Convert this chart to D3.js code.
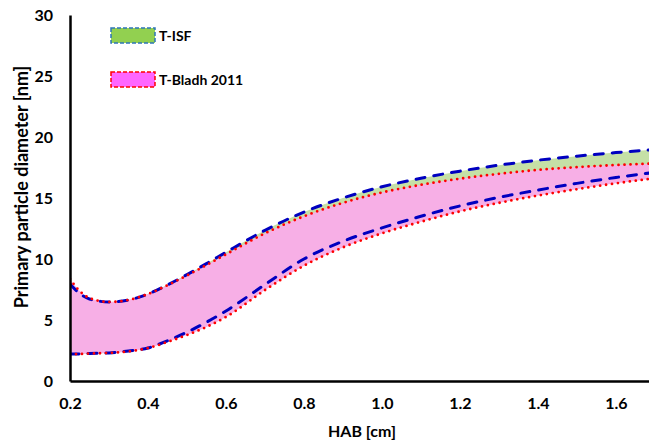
<!DOCTYPE html>
<html><head><meta charset="utf-8">
<script src="https://cdn.jsdelivr.net/npm/d3@7"></script>
<style>body{margin:0;background:#fff}svg{display:block}text{font-family:Lato,"Open Sans",sans-serif;font-weight:bold;fill:#000}</style>
</head><body><svg id="c" width="649" height="442"></svg>
<script>
const hab = [0.2,0.22,0.25,0.3,0.35,0.4,0.45,0.5,0.55,0.6,0.7,0.8,0.9,1.0,1.1,1.2,1.3,1.4,1.5,1.6,1.7];
const isfUpper = [7.95,7.3,6.72,6.48,6.64,7.13,7.88,8.72,9.62,10.55,12.35,13.85,15.0,15.92,16.62,17.2,17.69,18.1,18.43,18.72,18.97];
const isfLower = [2.21,2.21,2.25,2.3,2.46,2.7,3.3,4.0,4.82,5.74,7.9,10.0,11.45,12.55,13.5,14.35,15.05,15.65,16.2,16.68,17.1];
const bladhUpper = [8.36,7.54,6.8,6.48,6.64,7.13,7.85,8.65,9.5,10.38,12.1,13.5,14.6,15.45,16.08,16.58,16.98,17.3,17.53,17.7,17.83];
const bladhLower = [2.21,2.21,2.25,2.3,2.42,2.7,3.2,3.77,4.43,5.25,7.45,9.45,10.95,12.1,13.05,13.9,14.6,15.2,15.72,16.2,16.62];
const xTicks = [0.2,0.4,0.6,0.8,1.0,1.2,1.4,1.6];
const yTicks = [0,5,10,15,20,25,30];
const legendLabels = ["T-ISF","T-Bladh 2011"];

const svg = d3.select("#c");
const x = d3.scaleLinear().domain([0.2,1.685]).range([70,649]);
const y = d3.scaleLinear().domain([0,30]).range([381,15]);

svg.append("clipPath").attr("id","clip").append("rect").attr("x",70).attr("y",0).attr("width",579).attr("height",381);
const g = svg.append("g").attr("clip-path","url(#clip)");

const curve = d3.curveMonotoneX;
const band = (up, lo) => d3.area().x((d,i)=>x(hab[i])).y0((d,i)=>y(lo[i])).y1((d,i)=>y(up[i])).curve(curve)(hab);
const line = arr => d3.line().x((d,i)=>x(hab[i])).y((d,i)=>y(arr[i])).curve(curve)(hab);

g.append("path").attr("d",band(isfUpper,isfLower)).attr("fill","#c5e0a6");
g.append("path").attr("d",band(bladhUpper,bladhLower)).attr("fill","#f7afe6");

[isfUpper,isfLower].forEach(a=>g.append("path").attr("d",line(a)).attr("fill","none")
  .attr("stroke","#0000c0").attr("stroke-width",3).attr("stroke-dasharray","9,9").attr("stroke-linecap","round"));
[bladhUpper,bladhLower].forEach(a=>g.append("path").attr("d",line(a)).attr("fill","none")
  .attr("stroke","#ff0000").attr("stroke-width",2.8).attr("stroke-dasharray","0,6").attr("stroke-linecap","round"));

const ax = svg.append("g").attr("transform","translate(0,381)")
  .call(d3.axisBottom(x).tickValues(xTicks).tickFormat(d3.format(".1f")).tickSize(0).tickPadding(17));
const ay = svg.append("g").attr("transform","translate(70,0)")
  .call(d3.axisLeft(y).tickValues(yTicks).tickFormat(d3.format("d")).tickSize(0).tickPadding(17));
[ax,ay].forEach(a=>{a.select(".domain").attr("stroke","#000").attr("stroke-width",2.5);
  a.selectAll("text").style("font-family","Lato, sans-serif").style("font-weight","bold").style("font-size","16px").attr("fill","#000");});

svg.append("text").attr("x",362).attr("y",437).attr("text-anchor","middle").style("font-size","16px").text("HAB [cm]");
svg.append("text").attr("transform","translate(28,187) rotate(-90)").attr("text-anchor","middle").style("font-size","18px").text("Primary particle diameter [nm]");

const leg = [{fill:"#92d050",stroke:"#2e75b6",y:28},{fill:"#ff66ff",stroke:"#ff0000",y:72}];
leg.forEach((l,i)=>{
  svg.append("rect").attr("x",111).attr("y",l.y).attr("width",44).attr("height",15)
    .attr("fill",l.fill).attr("stroke",l.stroke).attr("stroke-width",1.5).attr("stroke-dasharray","4,2");
  svg.append("text").attr("x",159).attr("y",l.y+13).style("font-size","14px").text(legendLabels[i]);
});
</script></body></html>
